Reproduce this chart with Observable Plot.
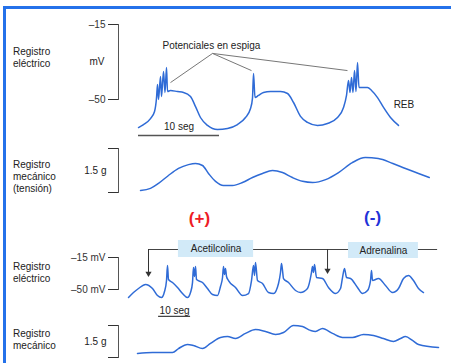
<!DOCTYPE html>
<html><head><meta charset="utf-8">
<script src="https://cdn.jsdelivr.net/npm/d3@7"></script>
<script src="https://cdn.jsdelivr.net/npm/@observablehq/plot@0.6"></script>
<style>
body{margin:0;background:#fff;font-family:"Liberation Sans",Arial,Helvetica,sans-serif;}
#wrap{position:relative;width:451px;height:363px;overflow:hidden;background:#fff;}
#border{position:absolute;left:3px;top:6px;width:460px;height:420px;border:3px solid #2471ea;border-right:none;}
.lbl{position:absolute;left:13px;font-size:10px;line-height:12px;color:#222;white-space:nowrap;}
#wrap svg{position:absolute;left:0;top:0;}
</style></head>
<body><div id="wrap"><div id="border"></div></div>
<script>
// ---- Row labels (left side) ----
const rowLabels = [
  {lines:["Registro","eléctrico"], top:46},
  {lines:["Registro","mecánico","(tensión)"], top:158.5},
  {lines:["Registro","eléctrico"], top:260.5},
  {lines:["Registro","mecánico"], top:327.5}
];

// ---- Top electric record: time (s), membrane potential (mV) ----
const elec1T = [0,0.62,1.48,1.98,2.22,2.35,2.47,2.72,2.84,3.09,3.27,3.46,3.58,3.95,4.81,5.56,6.42,7.04,7.65,8.52,9.75,10.99,12.22,13.21,13.83,14.07,14.2,14.38,14.81,15.43,16.3,17.53,18.4,19.14,20.0,20.86,22.1,23.33,24.57,25.31,25.68,25.93,26.11,26.3,26.48,26.67,26.85,27.04,27.22,27.65,28.27,28.77,29.51,30.25,31.11,32.1];
const elec1MV = [-63.1,-61.7,-58.9,-55.6,-49.5,-43.0,-50.0,-39.3,-48.6,-36.9,-46.7,-35.1,-46.3,-45.8,-46.3,-46.7,-48.6,-53.3,-58.4,-62.1,-64.0,-63.5,-61.7,-58.4,-54.2,-49.5,-37.9,-49.1,-48.1,-46.7,-46.3,-46.3,-47.2,-51.4,-57.9,-60.7,-62.1,-61.2,-58.4,-53.7,-48.1,-41.1,-46.7,-39.7,-46.7,-36.5,-46.3,-32.7,-44.4,-44.4,-44.4,-45.8,-49.1,-53.7,-58.4,-62.1];

// ---- Top mechanical record: time (s), tension (g) ----
const mech1T = [0.25,1.48,2.47,3.7,4.94,6.17,7.04,7.9,8.64,9.51,10.49,11.6,12.84,14.07,15.31,16.54,17.78,19.0,20.25,21.5,23.1,24.7,26.4,28.0,29.6,31.4,32.96,34.57,35.9];
const mech1G = [0.07,0.14,0.31,0.58,0.82,0.95,0.99,0.92,0.65,0.38,0.24,0.24,0.34,0.51,0.65,0.75,0.68,0.51,0.38,0.34,0.44,0.68,1.02,1.19,1.16,0.99,0.82,0.65,0.51];

// ---- Bottom electric record ----
const elec2T = [0,1.56,3.13,5.31,7.5,9.06,10.31,11.25,11.88,12.19,12.5,13.75,15.31,16.88,18.44,19.38,20.0,20.31,20.63,20.94,21.25,23.13,24.69,26.25,27.81,28.75,29.38,29.69,30.0,30.31,30.63,31.25,33.44,35.63,37.5,38.44,39.06,39.38,39.69,40.31,41.88,43.75,45.31,46.88,47.5,47.81,48.13,48.44,50.0,52.19,53.75,55.94,57.19,57.5,57.81,58.13,58.75,60.63,62.5,64.69,66.25,66.88,67.5,68.13,69.38,71.56,73.13,74.69,75.63,75.94,76.25,78.13,80.31,82.5,84.38,85.94,87.5,89.06,90.63,92.19];
const elec2MV = [-58.8,-53.3,-48.9,-44.5,-48.9,-56.6,-58.8,-52.2,-40.2,-23.8,-39.1,-42.4,-47.8,-54.4,-58.8,-53.3,-42.4,-25.9,-35.8,-24.8,-39.1,-42.4,-48.9,-55.5,-56.6,-46.7,-36.9,-24.8,-33.6,-27.0,-35.8,-40.2,-47.8,-56.6,-54.4,-40.2,-23.8,-34.7,-20.5,-40.2,-43.4,-53.3,-54.4,-43.4,-31.4,-21.6,-29.2,-38.0,-42.4,-51.1,-53.3,-48.9,-31.4,-24.8,-31.4,-22.7,-36.9,-38.0,-47.8,-54.4,-48.9,-36.9,-27.0,-36.9,-38.0,-47.8,-54.4,-51.1,-40.2,-29.2,-40.2,-38.0,-45.6,-53.3,-48.9,-38.0,-34.7,-40.2,-48.9,-53.3];

// ---- Bottom mechanical record ----
const mech2T = [2.81,7.5,13.75,15.63,18.44,20.31,23.13,25.63,28.75,30.94,33.44,36.56,39.69,42.81,45.94,48.44,51.56,54.38,56.88,58.44,60.63,63.75,66.88,70.0,73.44,76.56,79.69,82.81,85.0,86.56,88.75,90.63,96.88];
const mech2G = [0.19,0.23,0.23,0.42,0.61,0.56,0.42,0.66,0.94,0.98,0.89,1.13,1.31,1.22,1.08,1.17,1.50,1.45,1.27,1.22,1.36,1.13,0.94,0.94,1.08,1.03,0.89,0.75,0.89,0.98,0.80,0.61,0.47];

// ---- Annotations (data units) ----
const mvTicks = [-15, -50];
const gTicks = [0, 1.5];
const spikeLabel = [{t:9.0, v:-24.8, s:"Potenciales en espiga"}];
const spikeLeaders = [
  {t1:9.14, v1:-28.5, t2:3.95, v2:-42.1},
  {t1:9.14, v1:-28.5, t2:13.95, v2:-36.5},
  {t1:9.14, v1:-28.5, t2:25.8, v2:-36.5}
];
const rebLabel = [{t:31.5, v:-52.3, s:"REB"}];
const scaleBarTop = [{t1:0, t2:10, v:-66.8, tl:5, vl:-62.8, s:"10 seg"}];
const scaleBarBottom = [{t1:9.4, t2:19.4, v:-79.5, tl:14.4, vl:-73.2, s:"10 seg"}];
const signPlus = [{t:7.53, v:-0.89, s:"(+)"}];
const signMinus = [{t:28.9, v:-0.85, s:"(-)"}];
const drugLine = [{t1:6.25, t2:96.6, v:-6.25}];
const drugBoxes = [
  {name:"Acetilcolina", t1:15.6, t2:39.1, v1:3.6, v2:-15.0},
  {name:"Adrenalina", t1:68.75, t2:90.6, v1:1.4, v2:-16.1}
];
const drugArrows = [{t:6.25, from:-6.25, to:-34.7}, {t:62.2, from:-6.25, to:-31.4}];

// ---- Build ----
const zip = (ts, vs) => ts.map((t, i) => ({t, v: vs[i]}));
const W = 451, H = 363;
const TRACE = "#2f6bd6";
const FONT = "'Liberation Sans', Arial, Helvetica, sans-serif";
const wrap = document.getElementById("wrap");

rowLabels.forEach(r => {
  const d = document.createElement("div");
  d.className = "lbl"; d.style.top = r.top + "px";
  d.innerHTML = r.lines.join("<br>");
  wrap.appendChild(d);
});

function panel(o) {
  const svg = Plot.plot({
    width: W, height: H, marginRight: 0, marginLeft: 118,
    style: {background: "transparent", fontFamily: FONT, fontSize: "10px", color: "#222", overflow: "visible"},
    ...o
  });
  wrap.appendChild(svg);
}

function bracket(ticks, fmt) {
  return [
    Plot.frame({anchor: "left", stroke: "#555"}),
    Plot.axisY({ticks, tickSize: 10, tickPadding: 3, tickFormat: fmt, label: null, color: "#333"})
  ];
}

// Panel 1: top electric
panel({
  marginTop: 24, marginBottom: H - 99,
  x: {domain: [0, 10], range: [138, 219], axis: null},
  y: {domain: [-50, -15], label: null},
  marks: [
    ...bracket(mvTicks, d => "–" + Math.abs(d)),
    Plot.text([{v: -32.5, s: "mV"}], {y: "v", text: "s", frameAnchor: "left", dx: -14, textAnchor: "end", fill: "#222"}),
    Plot.link(spikeLeaders, {x1: "t1", y1: "v1", x2: "t2", y2: "v2", stroke: "#777", strokeWidth: 1}),
    Plot.text(spikeLabel, {x: "t", y: "v", text: "s", fill: "#222"}),
    Plot.line(zip(elec1T, elec1MV), {x: "t", y: "v", stroke: TRACE, strokeWidth: 1.5, curve: "monotone-x"}),
    Plot.ruleY(scaleBarTop, {y: "v", x1: "t1", x2: "t2", stroke: "#555", strokeWidth: 1.5}),
    Plot.text(scaleBarTop, {x: "tl", y: "vl", text: "s", fill: "#222"}),
    Plot.text(rebLabel, {x: "t", y: "v", text: "s", textAnchor: "start", fill: "#222"})
  ]
});

// Panel 2: top mechanical
panel({
  marginTop: 148, marginBottom: H - 192,
  x: {domain: [0, 10], range: [138, 219], axis: null},
  y: {domain: [0, 1.5], label: null},
  marks: [
    ...bracket(gTicks, () => ""),
    Plot.text([{v: 0.75, s: "1.5 g"}], {y: "v", text: "s", frameAnchor: "left", dx: -12, textAnchor: "end", fill: "#222"}),
    Plot.line(zip(mech1T, mech1G), {x: "t", y: "v", stroke: TRACE, strokeWidth: 1.5, curve: "monotone-x"}),
    Plot.text(signPlus, {x: "t", y: "v", text: "s", fill: "#ee1c24", fontSize: 17, fontWeight: "bold"}),
    Plot.text(signMinus, {x: "t", y: "v", text: "s", fill: "#1f33d8", fontSize: 17, fontWeight: "bold"})
  ]
});

// Panel 3: bottom electric
panel({
  marginTop: 257, marginBottom: H - 289,
  x: {domain: [0, 10], range: [128, 160], axis: null},
  y: {domain: [-50, -15], label: null},
  marks: [
    ...bracket(mvTicks, d => "–" + Math.abs(d) + " mV"),
    Plot.ruleY(drugLine, {y: "v", x1: "t1", x2: "t2", stroke: "#444", strokeWidth: 1}),
    Plot.rect(drugBoxes, {x1: "t1", x2: "t2", y1: "v1", y2: "v2", fill: "#d2eaf8"}),
    Plot.text(drugBoxes, {x: d => (d.t1 + d.t2) / 2, y: d => (d.v1 + d.v2) / 2, text: "name", fill: "#222"}),
    Plot.ruleX(drugArrows, {x: "t", y1: "from", y2: "to", stroke: "#333", strokeWidth: 1}),
    Plot.dot(drugArrows, {x: "t", y: "to", symbol: "triangle", r: 2.3, fill: "#333", stroke: null, rotate: 180, dy: -2}),
    Plot.line(zip(elec2T, elec2MV), {x: "t", y: "v", stroke: TRACE, strokeWidth: 1.5, curve: "monotone-x"}),
    Plot.ruleY(scaleBarBottom, {y: "v", x1: "t1", x2: "t2", stroke: "#444", strokeWidth: 1.2}),
    Plot.text(scaleBarBottom, {x: "tl", y: "vl", text: "s", fill: "#222"})
  ]
});

// Panel 4: bottom mechanical
panel({
  marginTop: 325, marginBottom: H - 357,
  x: {domain: [0, 10], range: [128, 160], axis: null},
  y: {domain: [0, 1.5], label: null},
  marks: [
    ...bracket(gTicks, () => ""),
    Plot.text([{v: 0.75, s: "1.5 g"}], {y: "v", text: "s", frameAnchor: "left", dx: -12, textAnchor: "end", fill: "#222"}),
    Plot.line(zip(mech2T, mech2G), {x: "t", y: "v", stroke: TRACE, strokeWidth: 1.5, curve: "monotone-x"})
  ]
});
</script>
</body></html>
